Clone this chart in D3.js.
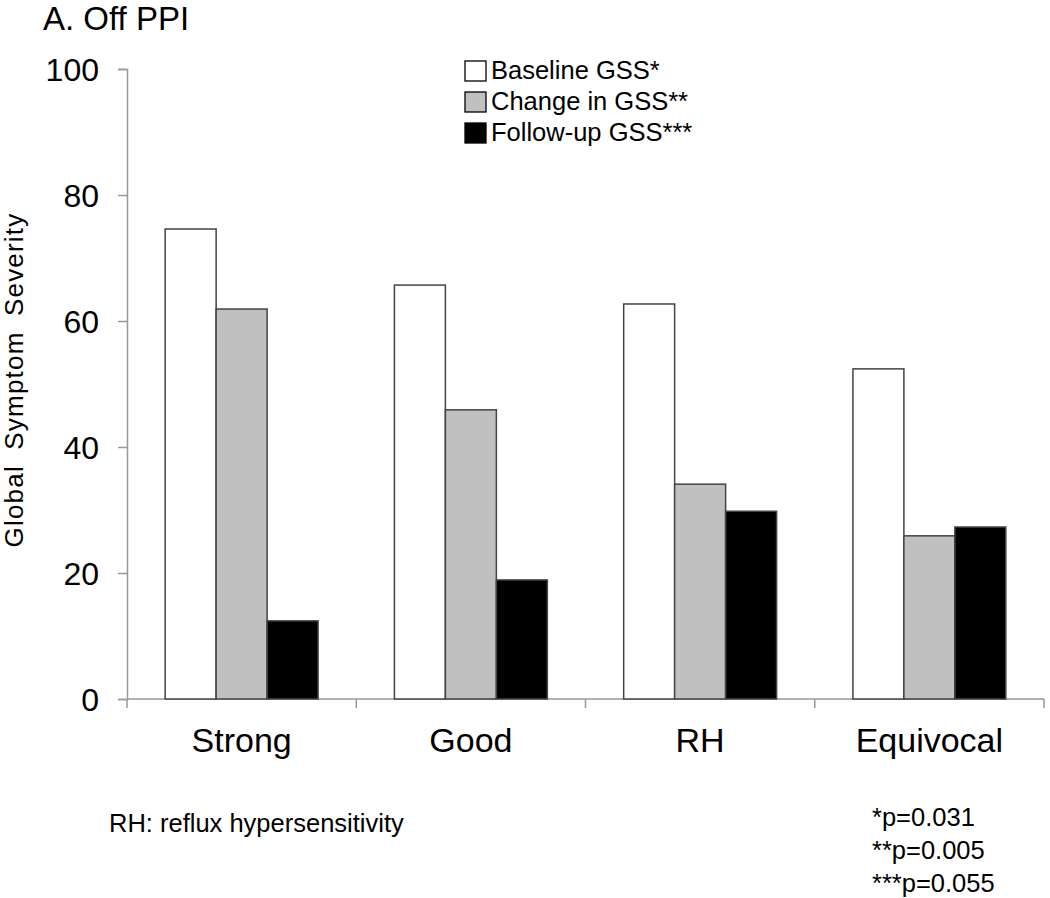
<!DOCTYPE html>
<html>
<head>
<meta charset="utf-8">
<script src="https://cdn.jsdelivr.net/npm/d3@7"></script>
<style>
  body { margin: 0; background: #fff; }
  svg { display: block; font-family: "Liberation Sans", Arial, sans-serif; }
</style>
</head>
<body>
<div id="chart"></div>
<script>
// Данные
const categories = ["Strong", "Good", "RH", "Equivocal"];
const seriesNames = ["Baseline GSS*", "Change in GSS**", "Follow-up GSS***"];
const baseline = [74.6, 65.7, 62.7, 52.4];
const change = [61.9, 45.9, 34.1, 25.9];
const followUp = [12.4, 18.9, 29.8, 27.3];
const yTicks = [0, 20, 40, 60, 80, 100];
const pValues = ["*p=0.031", "**p=0.005", "***p=0.055"];

function drawChart() {
    const width = 1050, height = 898;
    const margin = { left: 127, right: 6, top: 69, bottom: 199 };

    const svg = d3.select("#chart").append("svg")
        .attr("width", width)
        .attr("height", height);

    const x = d3.scaleBand()
        .domain(categories)
        .range([margin.left, width - margin.right])
        .paddingInner(0.333)
        .paddingOuter(0.1665);

    const x1 = d3.scaleBand()
        .domain(seriesNames)
        .range([0, x.bandwidth()]);

    const y = d3.scaleLinear()
        .domain([0, 100])
        .range([height - margin.bottom, margin.top]);

    const colors = d3.scaleOrdinal()
        .domain(seriesNames)
        .range(["#ffffff", "#c0c0c0", "#000000"]);

    const series = [baseline, change, followUp];
    const rows = categories.map((c, i) => ({
        cat: c,
        values: seriesNames.map((s, j) => ({ name: s, value: series[j][i] }))
    }));

    // Оси
    const yAxis = svg.append("g")
        .attr("transform", `translate(${margin.left},0)`)
        .call(d3.axisLeft(y).tickValues(yTicks).tickSize(9).tickPadding(19));
    yAxis.select(".domain").attr("stroke", "#999").attr("stroke-width", 1.5);
    yAxis.selectAll(".tick line").attr("stroke", "#999").attr("stroke-width", 1.5);
    yAxis.selectAll(".tick text")
        .attr("font-size", 32)
        .attr("dy", "0.36em")
        .attr("fill", "#000")
        .attr("font-family", "Liberation Sans, Arial, sans-serif");

    // Ось X с делениями между категориями
    const xAxisG = svg.append("g")
        .attr("transform", `translate(0,${y(0)})`);
    xAxisG.append("line")
        .attr("x1", margin.left).attr("x2", width - margin.right)
        .attr("stroke", "#999").attr("stroke-width", 1.5);
    const step = x.step();
    const bounds = categories.map(c => x(c) - step * x.paddingInner() / 2)
        .concat([x(categories[categories.length - 1]) + x.bandwidth() + step * x.paddingInner() / 2]);
    xAxisG.selectAll(".xtick")
        .data(bounds)
        .enter().append("line")
        .attr("x1", d => d).attr("x2", d => d)
        .attr("y1", 0).attr("y2", 9)
        .attr("stroke", "#999").attr("stroke-width", 1.5);
    xAxisG.selectAll(".xlabel")
        .data(categories)
        .enter().append("text")
        .attr("x", d => x(d) + x.bandwidth() / 2)
        .attr("y", 53)
        .attr("text-anchor", "middle")
        .attr("font-size", 34)
        .text(d => d);

    // Столбцы
    const groups = svg.append("g")
        .selectAll("g")
        .data(rows)
        .enter().append("g")
        .attr("transform", d => `translate(${x(d.cat)},0)`);

    groups.selectAll("rect")
        .data(d => d.values)
        .enter().append("rect")
        .attr("x", d => x1(d.name))
        .attr("y", d => y(d.value))
        .attr("width", x1.bandwidth())
        .attr("height", d => y(0) - y(d.value))
        .attr("fill", d => colors(d.name))
        .attr("stroke", "#444")
        .attr("stroke-width", 1.5);

    // Легенда
    const legend = svg.append("g")
        .attr("transform", "translate(465,61)");
    const li = legend.selectAll("g")
        .data(seriesNames)
        .enter().append("g")
        .attr("transform", (d, i) => `translate(0,${i * 31})`);
    li.append("rect")
        .attr("width", 21).attr("height", 20)
        .attr("fill", d => colors(d))
        .attr("stroke", "#000").attr("stroke-width", 1.3);
    li.append("text")
        .attr("x", 26).attr("y", 18)
        .attr("font-size", 25.5)
        .text(d => d);

    // Заголовки и подписи
    svg.append("text")
        .attr("x", 43).attr("y", 30)
        .attr("font-size", 33)
        .text("A. Off PPI");

    svg.append("text")
        .attr("transform", "translate(23,380) rotate(-90)")
        .attr("text-anchor", "middle")
        .attr("font-size", 26)
        .attr("letter-spacing", 1.2)
        .attr("word-spacing", 7)
        .text("Global Symptom Severity");

    svg.append("text")
        .attr("x", 109).attr("y", 832)
        .attr("font-size", 25.5)
        .text("RH: reflux hypersensitivity");

    svg.append("g")
        .selectAll("text")
        .data(pValues)
        .enter().append("text")
        .attr("x", 872)
        .attr("y", (d, i) => 826 + i * 33)
        .attr("font-size", 25.5)
        .text(d => d);
}

document.addEventListener("DOMContentLoaded", drawChart);
</script>
</body>
</html>
